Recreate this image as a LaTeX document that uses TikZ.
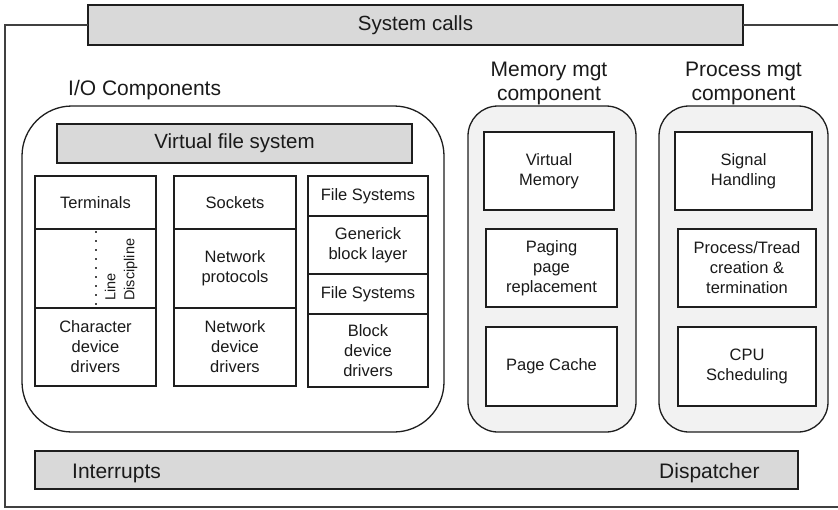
\documentclass[tikz,border=0pt]{standalone}
\usepackage{fontspec}
\setmainfont{Liberation Sans}
\definecolor{linec}{HTML}{1E1E1E}
\definecolor{barfill}{HTML}{D9D9D9}
\definecolor{grpfill}{HTML}{F2F2F2}
\definecolor{textc}{HTML}{1A1A1A}
\newcommand\mybox[7]{\node[#6, minimum width={#4-#2}, minimum height={#5-#3}] (#1) at ({(#2+#4)/2},{(#3+#5)/2}) {#7};}
\tikzset{
  base/.style={draw=linec, line width=1.3pt, inner sep=0pt, outer sep=0pt, align=center, text=textc},
  cell/.style={base, fill=white, font=\fontsize{16.5}{20}\selectfont},
  bar/.style={base, fill=barfill, font=\fontsize{20.5}{24}\selectfont},
  grp/.style={base, fill=grpfill, rounded corners=30pt},
  iogrp/.style={base, fill=white, rounded corners=50pt},
  head/.style={inner sep=0pt, align=center, text=textc, font=\fontsize{21}{23.5}\selectfont},
  frame/.style={draw=linec!85, line width=1.1pt},
  dots/.style={draw=linec!80, line width=1.8pt, dash pattern=on 1.8pt off 7.2pt}
}
\begin{document}
\begin{tikzpicture}[x=1pt,y=-1pt]
\useasboundingbox (0,0) rectangle (838,509);
% system calls and outer frame
\mybox{sys}{88}{5}{743}{45}{bar}{System calls}
\coordinate (f1) at (5,25);
\coordinate (f2) at (5,507);
\coordinate (f3) at (850,507);
\coordinate (f4) at (850,25);
\draw[frame] (sys.west) -- (f1) -- (f2) -- (f3) -- (f4) -- (sys.east);
% group boxes
\mybox{io}{22}{106}{444}{432}{iogrp}{}
\mybox{mem}{468}{106}{636}{432}{grp}{}
\mybox{proc}{659}{106}{828}{432}{grp}{}
% headings
\node[head, anchor=base west] (iolab) at (68,95) {I/O Components};
\node[head] (memlab) at (549,83.5) {Memory mgt\\component};
\node[head] (proclab) at (743.5,83.5) {Process mgt\\component};
% I/O contents
\mybox{vfs}{57}{124}{412}{163}{bar}{Virtual file system}
\mybox{term}{35}{176}{156}{229}{cell}{Terminals}
\mybox{ldisc}{35}{229}{156}{308}{cell}{}
\mybox{chr}{35}{308}{156}{386}{cell}{Character\\device\\drivers}
\coordinate (d1) at (96,231);
\coordinate (d2) at (96,306);
\draw[dots] (d1) -- (d2);
\node[rotate=90, anchor=west, align=left, inner sep=0pt, text=textc, font=\fontsize{14.5}{19}\selectfont] (ldtext) at (121,301) {Line\\Discipline};
\mybox{sock}{174}{176}{296}{229}{cell}{Sockets}
\mybox{netp}{174}{229}{296}{308}{cell}{Network\\protocols}
\mybox{netd}{174}{308}{296}{386}{cell}{Network\\device\\drivers}
\mybox{fs1}{308}{176}{428}{216}{cell}{File Systems}
\mybox{gbl}{308}{216}{428}{274}{cell}{Generick\\block layer}
\mybox{fs2}{308}{274}{428}{314}{cell}{File Systems}
\mybox{bdd}{308}{314}{428}{387}{cell}{Block\\device\\drivers}
% memory
\mybox{vm}{484}{132}{614}{210}{cell}{Virtual\\Memory}
\mybox{pg}{486}{229}{617}{307}{cell}{Paging\\page\\replacement}
\mybox{pc}{486}{327}{617}{406}{cell}{Page Cache}
% process
\mybox{sig}{675}{132}{812}{210}{cell}{Signal\\Handling}
\mybox{ptc}{678}{229}{816}{307}{cell}{Process/Tread\\creation \&\\termination}
\mybox{cpu}{678}{327}{816}{406}{cell}{CPU\\Scheduling}
% interrupts / dispatcher bar
\mybox{intr}{35}{451}{798}{489}{bar}{}
\node[head, anchor=base west] (intlab) at (72,478) {Interrupts};
\node[head, anchor=base west] (displab) at (659,478) {Dispatcher};
\end{tikzpicture}
\end{document}
